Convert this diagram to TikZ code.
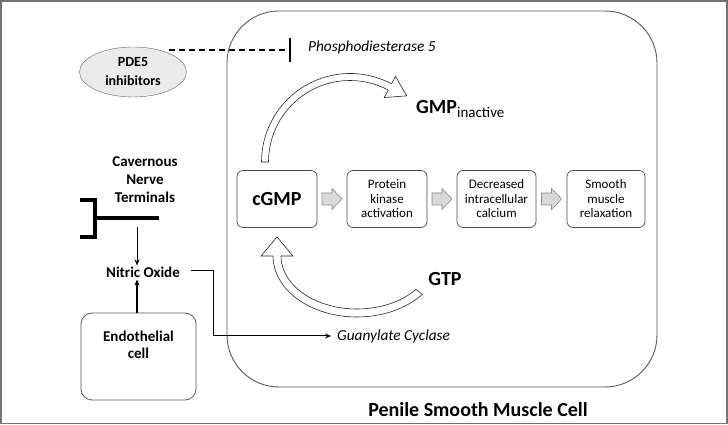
\documentclass[tikz,border=0pt]{standalone}
\usepackage{fontspec}
\setmainfont{Carlito}
\usetikzlibrary{calc,shapes.geometric,arrows.meta}
\begin{document}
\begin{tikzpicture}[x=1pt,y=1pt,
  stepbox/.style={draw=black!70, line width=0.7pt, rounded corners=6pt, minimum height=57pt, align=center, font=\fontsize{13}{14.5}\selectfont, inner sep=2pt},
  lbl/.style={font=\bfseries\fontsize{15}{18}\selectfont, align=center, inner sep=1pt},
  itl/.style={font=\itshape\fontsize{15.3}{16}\selectfont, inner sep=0pt, anchor=west},
  hollow/.style={line width=0.6pt, draw=black!85},
  blockarr/.pic={\draw[fill=black!15, draw=black!45, line width=0.6pt] (-10,-6)--(0,-6)--(0,-10.5)--(10,0)--(0,10.5)--(0,6)--(-10,6)--cycle;}
]
\useasboundingbox (0,0) rectangle (728,425);
% frame
\draw[black!55, line width=1.5pt] (1,1.5) rectangle (727,424);
% cell
\draw[black!65, line width=0.9pt, rounded corners=52pt] (227,38) rectangle (657,414);
\node[font=\bfseries\fontsize{20}{22}\selectfont] (cellname) at (478,15) {Penile Smooth Muscle Cell};

% PDE5 inhibitors
\node[ellipse, draw=black!60, fill=black!8, minimum width=107pt, minimum height=50pt, font=\bfseries\fontsize{14}{18}\selectfont, align=center, inner sep=0pt] (pde) at (133,353) {PDE5\\[1pt]inhibitors};
\coordinate (dstart) at (169,375);
\coordinate (bar) at (290,375);
\draw[line width=1.2pt, dash pattern=on 6pt off 4pt] (dstart) -- (bar);
\draw[line width=1.4pt] ($(bar)+(0,-12)$) -- ($(bar)+(0,12)$);
\node[itl] (pdefive) at (308,378) {Phosphodiesterase 5};

% top hollow arrow
\coordinate (C1) at (350,263);
\draw[hollow] ($(C1)+(62:88.5)$) arc[start angle=62,end angle=180,radius=88.5] -- ($(C1)+(180:81.5)$) arc[start angle=180,end angle=62,radius=81.5];
\draw[hollow] ($(C1)+(62:88.5)$) -- ($(C1)+(62:97)$) -- ($(C1)+(62:85)+(-28:19)$) -- ($(C1)+(62:73)$) -- ($(C1)+(62:81.5)$);
\node[anchor=west, inner sep=0pt, font=\bfseries\fontsize{20}{20}\selectfont] (gmp) at (416,316) {GMP\textsubscript{\normalfont\fontsize{15}{16}\selectfont inactive}};

% boxes
\node[stepbox, minimum width=80pt, font=\bfseries\fontsize{20}{22}\selectfont] (cgmp) at (277,226) {cGMP};
\node[stepbox, minimum width=80pt] (pk) at (387,226) {Protein\\kinase\\activation};
\node[stepbox, minimum width=79pt] (dic) at (496.5,226) {Decreased\\intracellular\\calcium};
\node[stepbox, minimum width=78pt] (smr) at (606,226) {Smooth\\muscle\\relaxation};
\path ($(cgmp.east)!0.5!(pk.west)$) pic {blockarr};
\path ($(pk.east)!0.5!(dic.west)$) pic {blockarr};
\path ($(dic.east)!0.5!(smr.west)$) pic {blockarr};

% bottom hollow arrow
\coordinate (C2) at (357,169);
\draw[hollow] ($(C2)+(180:84 and 61)$) arc[start angle=180,end angle=321,x radius=84,y radius=61] -- ($(C2)+(321:76 and 53)$) arc[start angle=321,end angle=180,x radius=76,y radius=53];
\draw[hollow] ($(C2)+(180:84 and 61)$) -- ($(C2)+(-96,0)$) -- ($(C2)+(-80,19)$) -- ($(C2)+(-64,0)$) -- ($(C2)+(180:76 and 53)$);
\node[font=\bfseries\fontsize{20}{22}\selectfont, inner sep=0pt] (gtp) at (445,146) {GTP};

% nerve terminals
\node[lbl] (cnt) at (145,245) {Cavernous\\Nerve\\Terminals};
\draw[line width=4.5pt, line cap=butt, line join=miter] (80,225) -- (95,225) -- (95,188) -- (80,188);
\draw[line width=4.5pt] (95,207) -- (159,207);
\coordinate (nt) at (137,198);
\node[lbl] (no) at (143,153) {Nitric Oxide};
\draw[line width=1pt, -{Stealth[length=6pt,width=5pt]}] (nt) -- (no.north -| nt);

% endothelial cell
\node[draw=black!65, line width=0.8pt, rounded corners=11pt, minimum width=115pt, minimum height=87pt] (endo) at (138.5,68.5) {};
\node[lbl] (endotext) at (138.5,80.5) {Endothelial\\[-1pt]cell};
\draw[line width=1.4pt, -{Stealth[length=6pt,width=5pt]}] (endo.north -| nt) -- ([yshift=-1pt]no.south -| nt);

% NO -> guanylate cyclase
\node[itl] (gc) at (337,89) {Guanylate Cyclase};
\coordinate (bend) at (213,154);
\draw[line width=1pt, -{Stealth[length=6pt,width=5pt]}] ([xshift=10pt]no.east |- bend) -- (bend) |- ([xshift=-6pt]gc.west);
\end{tikzpicture}
\end{document}
